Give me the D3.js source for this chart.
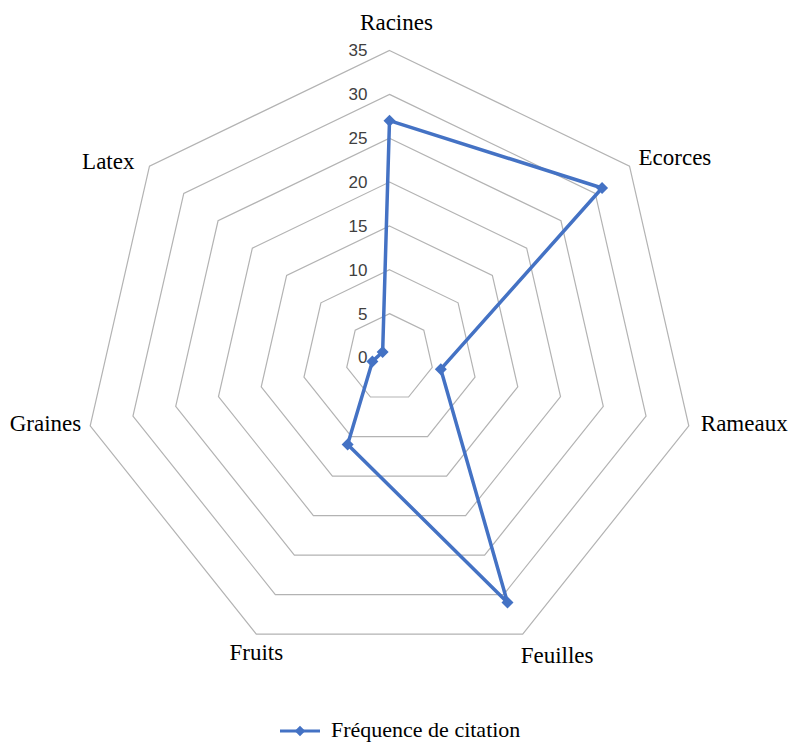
<!DOCTYPE html>
<html>
<head>
<meta charset="utf-8">
<script src="https://cdn.jsdelivr.net/npm/d3@7"></script>
<style>
  html, body { margin: 0; padding: 0; background: #fff; }
  svg { display: block; }
</style>
</head>
<body>
<svg id="chart" width="790" height="744"></svg>
<script>
const categories = ["Racines", "Ecorces", "Rameaux", "Feuilles", "Fruits", "Graines", "Latex"];
const values = [27, 31, 6, 31, 11, 2, 1];
const seriesName = "Fréquence de citation";
const ticks = [0, 5, 10, 15, 20, 25, 30, 35];

const svg = d3.select("#chart");
const cx = 389.5, cy = 357.5, R = 307;
const n = categories.length;
const r = d3.scaleLinear().domain([0, 35]).range([0, R]);
const ang = i => i * 2 * Math.PI / n;
const pt = (i, v) => [cx + r(v) * Math.sin(ang(i)), cy - r(v) * Math.cos(ang(i))];

// grid heptagons
const gridG = svg.append("g");
ticks.filter(t => t > 0).forEach(t => {
  const pts = d3.range(n).map(i => pt(i, t));
  gridG.append("path")
    .attr("d", d3.line()(pts) + "Z")
    .attr("fill", "none")
    .attr("stroke", "#b3b3b3")
    .attr("stroke-width", 1.2);
});

// tick labels
svg.append("g").selectAll("text").data(ticks).join("text")
  .attr("x", cx - 22)
  .attr("y", d => cy - r(d))
  .attr("dy", "0.35em")
  .attr("text-anchor", "end")
  .attr("font-family", "'Liberation Sans', Arial, sans-serif")
  .attr("font-size", 17)
  .attr("fill", "#404040")
  .text(d => d);

// category labels
const labelLayout = [
  {anchor: "middle", dx: 7, dy: -29},
  {anchor: "start", dx: 9, dy: -9},
  {anchor: "start", dx: 12, dy: -3},
  {anchor: "start", dx: -2, dy: 21},
  {anchor: "middle", dx: 0, dy: 18},
  {anchor: "end", dx: -9, dy: -3},
  {anchor: "end", dx: -15, dy: -5}
];
svg.append("g").selectAll("text").data(categories).join("text")
  .attr("x", (d, i) => pt(i, 35)[0] + labelLayout[i].dx)
  .attr("y", (d, i) => pt(i, 35)[1] + labelLayout[i].dy)
  .attr("dy", "0.35em")
  .attr("text-anchor", (d, i) => labelLayout[i].anchor)
  .attr("font-family", "'Liberation Serif', 'Times New Roman', serif")
  .attr("font-size", 23)
  .attr("fill", "#000")
  .text(d => d);

// series
const color = "#4472C4";
const dataPts = values.map((v, i) => pt(i, v));
svg.append("path")
  .attr("d", d3.line()(dataPts) + "Z")
  .attr("fill", "none")
  .attr("stroke", color)
  .attr("stroke-width", 3.5)
  .attr("stroke-linejoin", "round");

const marker = d3.symbol().type(d3.symbolSquare).size(72);
svg.append("g").selectAll("path").data(dataPts).join("path")
  .attr("transform", d => `translate(${d[0]},${d[1]}) rotate(45)`)
  .attr("d", marker)
  .attr("fill", color);

// legend
const lg = svg.append("g");
lg.append("line").attr("x1", 280).attr("x2", 320).attr("y1", 731).attr("y2", 731)
  .attr("stroke", color).attr("stroke-width", 3);
lg.append("path").attr("transform", "translate(300,731) rotate(45)").attr("d", d3.symbol().type(d3.symbolSquare).size(56)).attr("fill", color);
lg.append("text").attr("x", 331).attr("y", 730).attr("dy", "0.32em")
  .attr("font-family", "'Liberation Serif', 'Times New Roman', serif")
  .attr("font-size", 22).attr("fill", "#000")
  .text(seriesName);
</script>
</body>
</html>
